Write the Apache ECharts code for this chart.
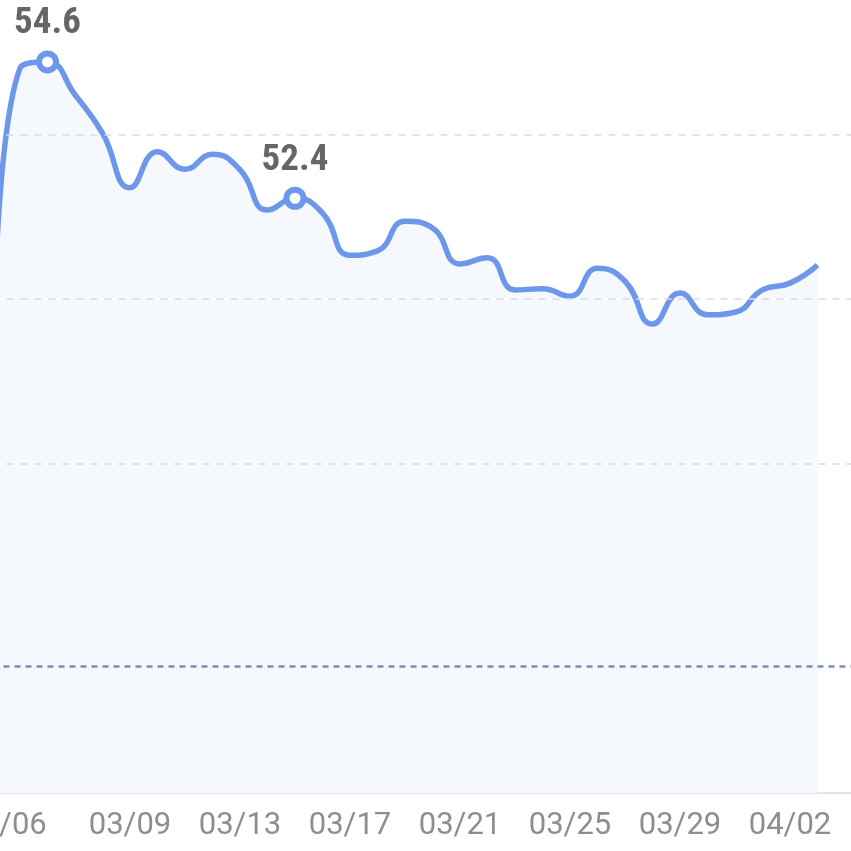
<!DOCTYPE html>
<html>
<head>
<meta charset="utf-8">
<script src="https://cdn.jsdelivr.net/npm/echarts@6/dist/echarts.min.js"></script>
<style>
html,body{margin:0;padding:0;background:#fff;}
#c{width:851px;height:851px;}
</style>
</head>
<body>
<div id="c"></div>
<script>
const dates = ['03/04','03/05','03/06','03/07','03/08','03/09','03/10','03/11','03/12','03/13',
  '03/14','03/15','03/16','03/17','03/18','03/19','03/20','03/21','03/22','03/23','03/24',
  '03/25','03/26','03/27','03/28','03/29','03/30','03/31','04/01','04/02','04/03','04/04','04/05'];
const values = [49.6, 54.5, 54.6, 54.07, 53.45, 52.57, 53.15, 52.87, 53.11, 52.86,
  52.21, 52.4, 52.16, 51.48, 51.55, 52.03, 51.92, 51.34, 51.44, 50.92, 50.94,
  50.82, 51.27, 51.06, 50.37, 50.87, 50.52, 50.56, 50.92, 51.03, 51.32];
const labeledIdx = [2, 11];
const gridValues = [53.42, 50.77, 48.11];
const refValue = 44.85;
const yRange = [42.8, 55.6];
const firstLabel = '03/06';
const labelStart = 5, labelStep = 4;

const lineColor = '#6d97ea';
const seriesData = values.map((v, i) => labeledIdx.includes(i) ? {
  value: v,
  symbol: 'circle',
  symbolSize: 17,
  itemStyle: {color: '#fff', borderColor: lineColor, borderWidth: 6},
  label: {show: true, position: 'top', distance: 8, color: '#666666', fontSize: 37,
    fontFamily: "'Liberation Sans Narrow', 'Roboto Condensed', Roboto", fontWeight: 'bold',
    formatter: p => p.value.toFixed(1)}
} : {value: v, symbol: 'none'});

const markData = gridValues.map(g => ({
  yAxis: g, lineStyle: {color: '#d9dbe3', width: 1.5, type: [7, 7]}
}));
markData.push({yAxis: refValue, lineStyle: {color: '#7b8dbd', width: 2.5, type: [6, 5]}});

const chart = echarts.init(document.getElementById('c'), null, {renderer: 'canvas'});
chart.setOption({
  animation: false,
  grid: {left: -7.5, right: -21.5, top: 0, bottom: 58, containLabel: false, outerBoundsMode: 'none'},
  xAxis: {
    type: 'category',
    data: dates,
    boundaryGap: false,
    axisLine: {show: true, lineStyle: {color: '#e4e4e6', width: 2}},
    axisTick: {show: false},
    splitLine: {show: false},
    axisLabel: {
      show: true,
      interval: (idx, val) => val === firstLabel || (idx >= labelStart && (idx - labelStart) % labelStep === 0),
      color: '#8e8e8e',
      fontSize: 31,
      fontFamily: 'Roboto',
      margin: 18,
      hideOverlap: false,
      formatter: (val) => val === firstLabel ? '{s|' + val + '}' : val,
      rich: {s: {color: '#8e8e8e', fontSize: 31, fontFamily: 'Roboto', padding: [0, 84, 0, 0]}}
    }
  },
  yAxis: {
    type: 'value',
    min: yRange[0],
    max: yRange[1],
    show: false,
    splitLine: {show: false}
  },
  series: [{
    type: 'line',
    data: values,
    smooth: 0.5,
    symbol: 'none',
    lineStyle: {width: 0, opacity: 0},
    areaStyle: {color: '#f5f8fd', opacity: 1},
    silent: true,
    z: 1
  }, {
    type: 'line',
    data: [],
    z: 2,
    markLine: {
      silent: true,
      symbol: ['none', 'none'],
      label: {show: false},
      data: markData
    }
  }, {
    type: 'line',
    data: seriesData,
    smooth: 0.5,
    showSymbol: true,
    lineStyle: {color: lineColor, width: 5.5},
    itemStyle: {color: lineColor},
    z: 3
  }]
});
</script>
</body>
</html>
